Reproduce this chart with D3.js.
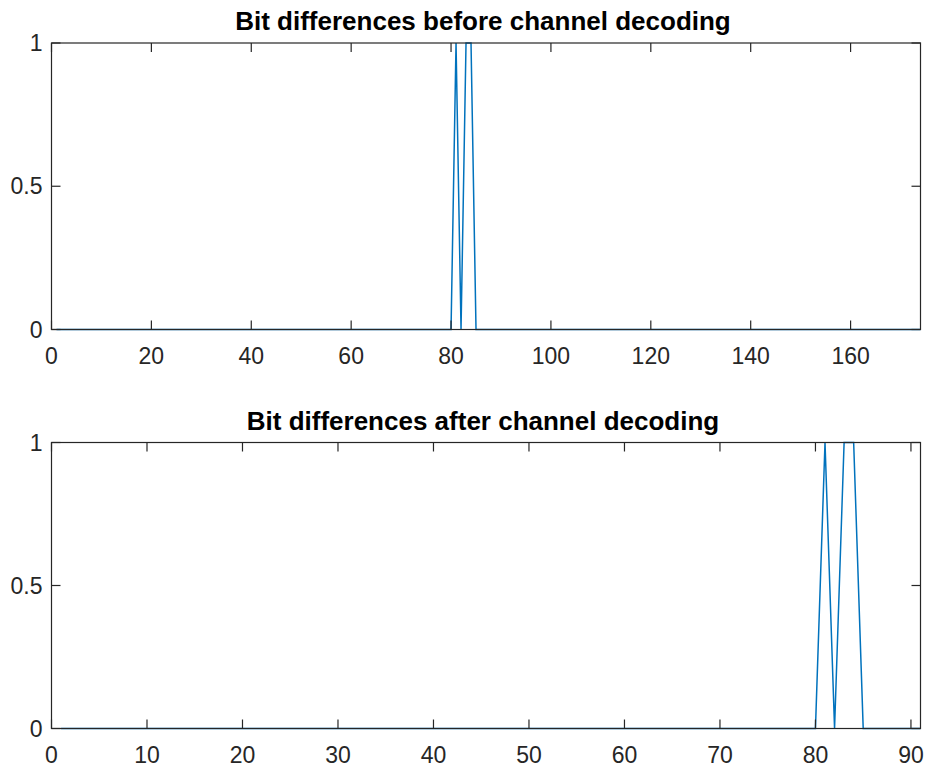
<!DOCTYPE html>
<html>
<head>
<meta charset="utf-8">
<script src="https://cdn.jsdelivr.net/npm/d3@7"></script>
<style>
  html, body { margin: 0; padding: 0; background: #fff; }
  svg { display: block; font-family: "Liberation Sans", Arial, Helvetica, sans-serif; }
  .tick-label { font-size: 23px; fill: #262626; }
  .title { font-size: 26px; font-weight: bold; fill: #000; }
</style>
</head>
<body>
<svg id="chart" width="926" height="767"></svg>
<script>
// bit difference per bit index (1-based), before decoding: 174 bits
const beforeBits = [
  0,0,0,0,0,0,0,0,0,0,0,0,0,0,0,0,0,0,0,0,
  0,0,0,0,0,0,0,0,0,0,0,0,0,0,0,0,0,0,0,0,
  0,0,0,0,0,0,0,0,0,0,0,0,0,0,0,0,0,0,0,0,
  0,0,0,0,0,0,0,0,0,0,0,0,0,0,0,0,0,0,0,0,
  1,0,1,1,0,0,0,0,0,0,0,0,0,0,0,0,0,0,0,0,
  0,0,0,0,0,0,0,0,0,0,0,0,0,0,0,0,0,0,0,0,
  0,0,0,0,0,0,0,0,0,0,0,0,0,0,0,0,0,0,0,0,
  0,0,0,0,0,0,0,0,0,0,0,0,0,0,0,0,0,0,0,0,
  0,0,0,0,0,0,0,0,0,0,0,0,0,0
];
// after decoding: 91 bits
const afterBits = [
  0,0,0,0,0,0,0,0,0,0,0,0,0,0,0,0,0,0,0,0,
  0,0,0,0,0,0,0,0,0,0,0,0,0,0,0,0,0,0,0,0,
  0,0,0,0,0,0,0,0,0,0,0,0,0,0,0,0,0,0,0,0,
  0,0,0,0,0,0,0,0,0,0,0,0,0,0,0,0,0,0,0,0,
  1,0,1,1,0,0,0,0,0,0,0
];

const yTicks = [0, 0.5, 1];
const topXTicks = [0, 20, 40, 60, 80, 100, 120, 140, 160];
const bottomXTicks = [0, 10, 20, 30, 40, 50, 60, 70, 80, 90];

const panels = [
  { title: 'Bit differences before channel decoding', data: beforeBits, xMax: 174, xTicks: topXTicks, top: 43, bottom: 329.5 },
  { title: 'Bit differences after channel decoding', data: afterBits, xMax: 91, xTicks: bottomXTicks, top: 442.5, bottom: 728.5 }
];

const left = 51.5, right = 920.5;
const tickLen = 9;
const axisColor = '#262626';
const lineColor = '#0072BD';

const svg = d3.select('#chart');

panels.forEach(p => {
  const x = d3.scaleLinear().domain([0, p.xMax]).range([left, right]);
  const y = d3.scaleLinear().domain([0, 1]).range([p.bottom, p.top]);
  const g = svg.append('g');

  // data line
  g.append('path')
    .datum(p.data)
    .attr('fill', 'none')
    .attr('stroke', lineColor)
    .attr('stroke-width', 1.5)
    .attr('d', d3.line().x((d, i) => x(i + 1)).y(d => y(d)));

  // box
  g.append('rect')
    .attr('x', left).attr('y', p.top)
    .attr('width', right - left).attr('height', p.bottom - p.top)
    .attr('fill', 'none').attr('stroke', axisColor).attr('stroke-width', 1.2);

  // x ticks (inward, bottom and top)
  p.xTicks.forEach(t => {
    const tx = x(t);
    g.append('line').attr('x1', tx).attr('x2', tx).attr('y1', p.bottom).attr('y2', p.bottom - tickLen)
      .attr('stroke', axisColor).attr('stroke-width', 1.2);
    g.append('line').attr('x1', tx).attr('x2', tx).attr('y1', p.top).attr('y2', p.top + tickLen)
      .attr('stroke', axisColor).attr('stroke-width', 1.2);
    g.append('text').attr('class', 'tick-label')
      .attr('x', tx).attr('y', p.bottom + 34)
      .attr('text-anchor', 'middle')
      .text(t);
  });

  // y ticks (inward, left and right)
  yTicks.forEach(t => {
    const ty = y(t);
    g.append('line').attr('x1', left).attr('x2', left + tickLen).attr('y1', ty).attr('y2', ty)
      .attr('stroke', axisColor).attr('stroke-width', 1.2);
    g.append('line').attr('x1', right).attr('x2', right - tickLen).attr('y1', ty).attr('y2', ty)
      .attr('stroke', axisColor).attr('stroke-width', 1.2);
    g.append('text').attr('class', 'tick-label')
      .attr('x', left - 9).attr('y', ty + 8)
      .attr('text-anchor', 'end')
      .text(t);
  });

  g.append('text').attr('class', 'title')
    .attr('x', (left + right) / 2 - 3).attr('y', p.top - 13)
    .attr('text-anchor', 'middle')
    .text(p.title);
});
</script>
</body>
</html>
